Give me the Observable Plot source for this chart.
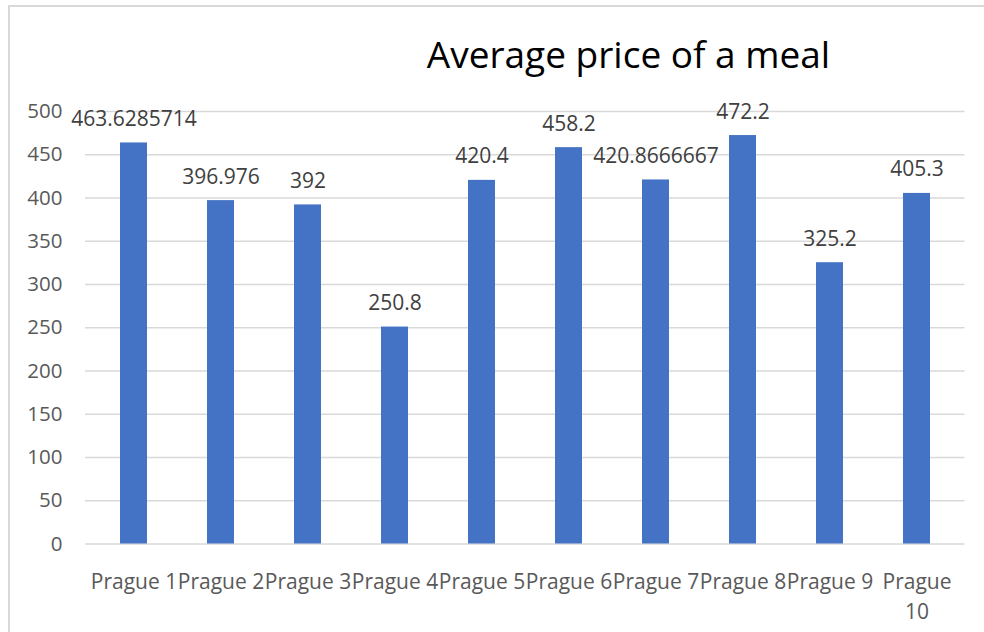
<!DOCTYPE html>
<html>
<head>
<meta charset="utf-8">
<script src="https://cdn.jsdelivr.net/npm/d3@7"></script>
<script src="https://cdn.jsdelivr.net/npm/@observablehq/plot@0.6"></script>
<style>
  html, body { margin: 0; padding: 0; background: #fff; }
  #wrap { position: relative; width: 984px; height: 632px; overflow: hidden; font-family: "Open Sans", sans-serif; }
  #frame { position: absolute; left: 8px; top: 5px; width: 1200px; height: 800px; border: 2px solid #d9d9d9; box-sizing: border-box; }
  #title { position: absolute; left: 0; width: 1257px; top: 28px; text-align: center; font-size: 37px; color: #000; line-height: normal; white-space: nowrap; }
  #chart { position: absolute; left: 0; top: 0; }
</style>
</head>
<body>
<div id="wrap">
  <div id="frame"></div>
  <div id="chart"></div>
  <div id="title">Average price of a meal</div>
</div>
<script>
const districts = ["Prague 1", "Prague 2", "Prague 3", "Prague 4", "Prague 5", "Prague 6", "Prague 7", "Prague 8", "Prague 9", "Prague 10"];
const prices = [463.6285714, 396.976, 392, 250.8, 420.4, 458.2, 420.8666667, 472.2, 325.2, 405.3];
const yTicks = [0, 50, 100, 150, 200, 250, 300, 350, 400, 450, 500];

const data = districts.map((d, i) => ({district: d, price: prices[i]}));

const chart = Plot.plot({
  width: 984,
  height: 632,
  marginLeft: 85,
  marginRight: 19.5,
  marginTop: 111,
  marginBottom: 88.5,
  style: {fontFamily: "Open Sans, sans-serif", background: "transparent", overflow: "visible"},
  x: {domain: districts, paddingInner: 0.685, paddingOuter: 0.3425},
  y: {domain: [0, 500]},
  marks: [
    Plot.gridY(yTicks, {stroke: "#d9d9d9", strokeOpacity: 1, strokeWidth: 1.5}),
    Plot.barY(data, {x: "district", y: "price", fill: "#4472C4"}),
    Plot.axisY(yTicks, {tickSize: 0, tickPadding: 23, fontSize: 20.5, fill: "#595959", label: null}),
    Plot.axisX({tickSize: 0, tickPadding: 24.5, fontSize: 21, fill: "#595959", label: null, lineHeight: 1.4,
      tickFormat: d => d === "Prague 10" ? "Prague\n10" : d}),
    Plot.text(data, {x: "district", y: "price", text: d => String(d.price), lineAnchor: "bottom", dy: -17, fontSize: 21, fill: "#404040"})
  ]
});
document.getElementById("chart").appendChild(chart);
</script>
</body>
</html>
